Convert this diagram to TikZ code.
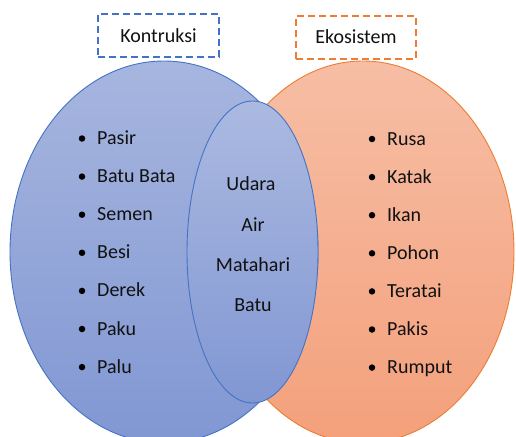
\documentclass[tikz,border=0pt]{standalone}
\usepackage{fontspec}
\setmainfont{Carlito}
\usetikzlibrary{shapes.geometric}
\definecolor{bluetop}{HTML}{A7B6DF}
\definecolor{bluebot}{HTML}{8197D3}
\definecolor{blueline}{HTML}{4472C4}
\definecolor{ortop}{HTML}{F6BEA5}
\definecolor{orbot}{HTML}{F4A07B}
\definecolor{orline}{HTML}{ED7D31}
\definecolor{txt}{HTML}{111111}
\tikzset{
  bigell/.style={ellipse, inner sep=0pt, line width=0.9pt},
  titlebox/.style={dashed, dash pattern=on 7pt off 4pt, line width=1.8pt},
  item/.style={anchor=base west, inner sep=0pt, text=txt},
  mid/.style={anchor=base, inner sep=0pt, text=txt},
  dot/.style={circle, fill=black, inner sep=0pt, minimum size=6.5pt},
}
\begin{document}
\begin{tikzpicture}[x=1pt,y=-1pt,font=\fontsize{20}{24}\selectfont]
\useasboundingbox (0,0) rectangle (516,436);
\clip (0,0) rectangle (516,436);
% ellipses
\node[bigell, draw=orline, top color=ortop, bottom color=orbot,
      minimum width=302pt, minimum height=382pt] (eco) at (363,252) {};
\node[bigell, draw=blueline, top color=bluetop, bottom color=bluebot,
      minimum width=308pt, minimum height=382pt] (kon) at (164,252) {};
\node[bigell, draw=blueline, top color=bluetop!95!white, bottom color=bluebot,
      minimum width=131pt, minimum height=302pt] (both) at (252.5,252) {};
% title boxes
\node[titlebox, draw=blueline, minimum width=121pt, minimum height=43pt, inner sep=0pt] (tk) at (158.5,35.5) {};
\node[anchor=base, inner sep=0pt, text=txt] (tkt) at (158.5,42) {Kontruksi};
\node[titlebox, draw=orline, minimum width=120pt, minimum height=43pt, inner sep=0pt] (te) at (356,37.5) {};
\node[anchor=base, inner sep=0pt, text=txt] (tet) at (356,43.5) {Ekosistem};
% left list
\foreach \t [count=\i from 0] in {Pasir,Batu Bata,Semen,Besi,Derek,Paku,Palu}{
  \node[dot] (lb\i) at (82,138.5+38.1*\i) {};
  \node[item] (l\i) at (97,144.5+38.1*\i) {\t};
}
% right list
\foreach \t [count=\i from 0] in {Rusa,Katak,Ikan,Pohon,Teratai,Pakis,Rumput}{
  \node[dot] (rb\i) at (372,139+38.1*\i) {};
  \node[item] (r\i) at (387,145+38.1*\i) {\t};
}
% middle
\node[mid] (m0) at (251,190) {Udara};
\node[mid] (m1) at (253,231) {Air};
\node[mid] (m2) at (253,271) {Matahari};
\node[mid] (m3) at (253,311) {Batu};
\end{tikzpicture}
\end{document}
